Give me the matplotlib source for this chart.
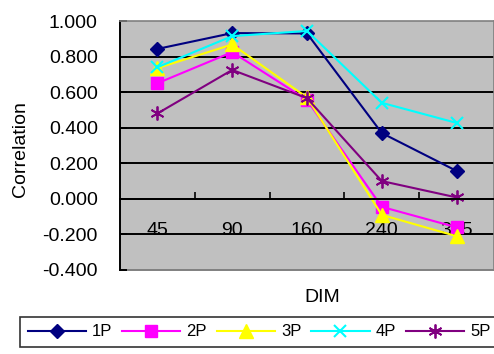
import matplotlib
matplotlib.use("Agg")
import matplotlib.pyplot as plt
import numpy as np
from matplotlib.ticker import FixedLocator, FuncFormatter

categories = ["45", "90", "160", "240", "305"]
s1p = [0.843, 0.932, 0.930, 0.370, 0.157]
s2p = [0.650, 0.825, 0.556, -0.045, -0.160]
s3p = [0.735, 0.868, 0.570, -0.090, -0.210]
s4p = [0.740, 0.915, 0.944, 0.540, 0.427]
s5p = [0.480, 0.725, 0.566, 0.100, 0.008]
series_names = ["1P", "2P", "3P", "4P", "5P"]
yticks = [-0.4, -0.2, 0.0, 0.2, 0.4, 0.6, 0.8, 1.0]

plt.rcParams['font.family'] = ['Liberation Sans', 'DejaVu Sans']

W, H = 494, 354
fig = plt.figure(figsize=(W / 100, H / 100), dpi=100)
ax = fig.add_axes([120 / W, 1 - 270 / H, 374 / W, 249 / H])
ax.set_facecolor('#C0C0C0')

x = np.arange(len(categories))
styles = [
    dict(color='#000080', marker='D', ms=7.5, mfc='#000080', mec='#000080'),
    dict(color='#FF00FF', marker='s', ms=9, mfc='#FF00FF', mec='#FF00FF'),
    dict(color='#FFFF00', marker='^', ms=9.5, mfc='#FFFF00', mec='#FFFF00'),
    dict(color='#00FFFF', marker='x', ms=9, mew=1.5),
    dict(color='#800080', marker=(6, 2, 0), ms=10, mew=1.3),
]
data = [s1p, s2p, s3p, s4p, s5p]
lines = []
for name, vals, st in zip(series_names, data, styles):
    ln, = ax.plot(x, vals, lw=1.5, label=name, clip_on=False, **st)
    lines.append(ln)

ax.set_xlim(-0.5, len(categories) - 0.5)
ax.set_ylim(-0.4, 1.0)

for yv in yticks[1:-1]:
    ax.axhline(yv, color='black', lw=1.4, zorder=1)

for side in ['top', 'right']:
    ax.spines[side].set_color('#808080')
    ax.spines[side].set_linewidth(1.2)
ax.spines['left'].set_color('black')
ax.spines['left'].set_linewidth(1.4)
ax.spines['bottom'].set_position(('data', 0))
ax.spines['bottom'].set_color('black')
ax.spines['bottom'].set_linewidth(1.4)
ax.axhline(-0.4, color='#808080', lw=1.4, zorder=1, clip_on=False)

ax.yaxis.set_major_locator(FixedLocator(yticks))
ax.yaxis.set_major_formatter(FuncFormatter(lambda v, p: f"{v:.3f}"))
ax.tick_params(axis='y', direction='in', length=5, width=1.4, pad=16,
               labelsize=14, colors='black')

ax.set_xticks(x)
ax.set_xticklabels(categories)
ax.set_xticks(np.arange(0.5, len(categories) - 0.5, 1.0), minor=True)
ax.tick_params(axis='x', which='major', length=0, pad=17, labelsize=14)
ax.tick_params(axis='x', which='minor', direction='in', length=5, width=1.2)

fig.text(21 / W, 1 - 149 / H, "Correlation", rotation=90, ha='center', va='center', fontsize=14)
fig.text(322 / W, 1 - 298 / H, "DIM", ha='center', va='center', fontsize=14)

leg = fig.legend(handles=lines, loc='upper left', ncol=5,
                 bbox_to_anchor=(20 / W, 1 - 317 / H), borderaxespad=0,
                 frameon=True, fontsize=12, handlelength=3.5, columnspacing=0.6,
                 handletextpad=0.35, borderpad=0.45, fancybox=False)
leg.get_frame().set_edgecolor('black')
leg.get_frame().set_linewidth(1.2)

fig.savefig("out.png", dpi=100)
